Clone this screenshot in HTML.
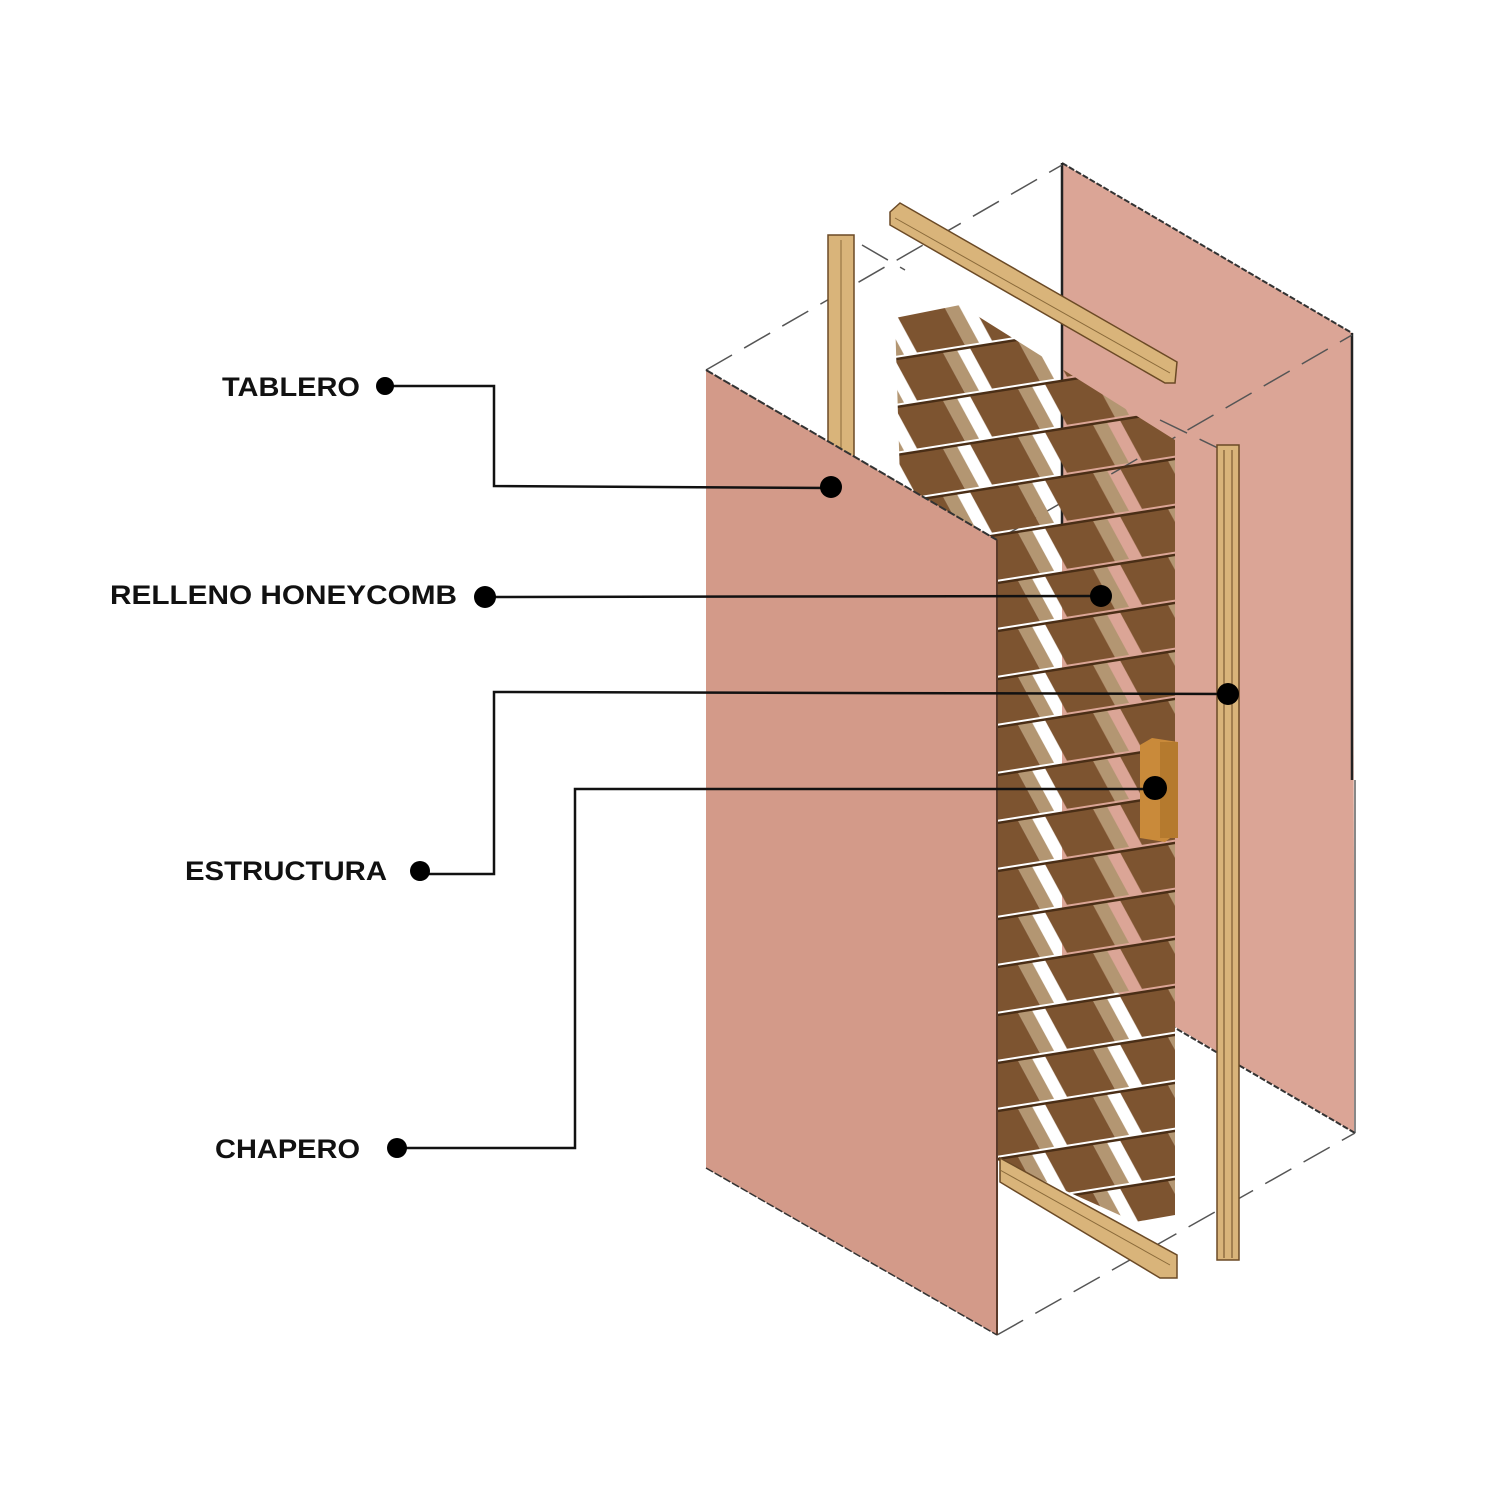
<!DOCTYPE html>
<html><head><meta charset="utf-8"><style>html,body{margin:0;padding:0;background:#fff}svg{display:block}</style></head>
<body>
<svg width="1500" height="1500" viewBox="0 0 1500 1500" xmlns="http://www.w3.org/2000/svg">
<defs>
<pattern id="hc" width="75" height="48" patternUnits="userSpaceOnUse" patternTransform="translate(895,310) skewY(-9)">
<polygon points="0,2 48,2 70,46 22,46" fill="#7d5430"/>
<polygon points="-75,2 -27,2 -5,46 -53,46" fill="#7d5430"/>
<polygon points="48,2 62,2 84,46 70,46" fill="#b39672"/>
<polygon points="-27,2 -13,2 9,46 -5,46" fill="#b39672"/>
<rect y="0" width="75" height="2.5" fill="#4a2e16"/>
</pattern>
<clipPath id="hcclip"><polygon points="895,318 960,305 1175,440 1175,1215 1135,1222 997,1160 900,480"/></clipPath>
</defs>
<!-- back panel -->
<polygon points="1062,163 1352,333 1355,1133 1062,960" fill="#dba596"/>
<line x1="1062" y1="163" x2="1352" y2="333" stroke="#333" stroke-width="2" stroke-dasharray="6,2"/>
<line x1="1062" y1="163" x2="1062" y2="540" stroke="#222" stroke-width="2.5"/>
<line x1="1352" y1="333" x2="1352" y2="780" stroke="#222" stroke-width="2.5"/>
<line x1="1355" y1="780" x2="1355" y2="1133" stroke="#888" stroke-width="2"/>
<line x1="1170" y1="1025" x2="1355" y2="1133" stroke="#333" stroke-width="2" stroke-dasharray="6,2"/>
<!-- dashed box lines -->
<g stroke="#555" stroke-width="1.5" stroke-dasharray="30,14" fill="none">
<line x1="706" y1="370" x2="1062" y2="165"/>
<line x1="997" y1="540" x2="1352" y2="335"/>
<line x1="997" y1="1335" x2="1355" y2="1133"/>
<line x1="862" y1="245" x2="905" y2="270"/>
<line x1="1160" y1="420" x2="1222" y2="450"/>
</g>
<!-- top rail -->
<polygon points="890,212 900,203 1177,362 1175,383 1165,383 890,225" fill="#d9b47a" stroke="#6b4a26" stroke-width="1.5"/>
<line x1="895" y1="218" x2="1170" y2="373" stroke="#8a6a3a" stroke-width="1"/>
<!-- left stile -->
<rect x="828" y="235" width="26" height="230" fill="#d9b47a" stroke="#6b4a26" stroke-width="1.5"/>
<line x1="841" y1="240" x2="841" y2="465" stroke="#8a6a3a"/>
<!-- honeycomb -->
<rect x="880" y="290" width="310" height="950" fill="url(#hc)" clip-path="url(#hcclip)"/>
<!-- bottom rail -->
<polygon points="1000,1158 1177,1255 1177,1278 1160,1278 1000,1182" fill="#d9b47a" stroke="#6b4a26" stroke-width="1.5"/>
<line x1="1000" y1="1170" x2="1170" y2="1265" stroke="#8a6a3a"/>
<!-- right stile -->
<rect x="1217" y="445" width="22" height="815" fill="#d9b47a" stroke="#6b4a26" stroke-width="1.5"/>
<line x1="1224" y1="450" x2="1224" y2="1258" stroke="#6b4a26"/>
<line x1="1232" y1="450" x2="1232" y2="1258" stroke="#6b4a26"/>
<!-- front panel -->
<polygon points="706,370 997,540 997,1335 706,1168" fill="#d39a89"/>
<line x1="706" y1="370" x2="997" y2="540" stroke="#333" stroke-width="2" stroke-dasharray="8,2"/>
<line x1="997" y1="540" x2="997" y2="1335" stroke="#5a3a2a" stroke-width="2"/>
<line x1="706" y1="1168" x2="997" y2="1335" stroke="#333" stroke-width="1.5" stroke-dasharray="8,2"/>
<!-- chapero -->
<polygon points="1140,745 1152,738 1178,742 1178,832 1165,842 1140,838" fill="#c98a3a"/>
<rect x="1160" y="742" width="18" height="96" fill="#b57a2e"/>
<!-- leader lines -->
<g stroke="#111" stroke-width="2.5" fill="none">
<polyline points="385,386 494,386 494,486 830,488"/>
<line x1="485" y1="597" x2="1101" y2="596"/>
<polyline points="420,874 494,874 494,692 1228,694"/>
<polyline points="397,1148 575,1148 575,789 1155,789"/>
</g>
<g fill="#000">
<circle cx="385" cy="386" r="9"/><circle cx="831" cy="487" r="11"/>
<circle cx="485" cy="597" r="11"/><circle cx="1101" cy="596" r="11"/>
<circle cx="420" cy="871" r="10"/><circle cx="1228" cy="694" r="11"/>
<circle cx="397" cy="1148" r="10"/><circle cx="1155" cy="788" r="12"/>
</g>
<g font-family="Liberation Sans, sans-serif" font-weight="bold" font-size="27" fill="#111">
<text x="222" y="396" textLength="138" lengthAdjust="spacingAndGlyphs">TABLERO</text>
<text x="110" y="604" textLength="347" lengthAdjust="spacingAndGlyphs">RELLENO HONEYCOMB</text>
<text x="185" y="880" textLength="202" lengthAdjust="spacingAndGlyphs">ESTRUCTURA</text>
<text x="215" y="1158" textLength="145" lengthAdjust="spacingAndGlyphs">CHAPERO</text>
</g>
</svg>
</body></html>
